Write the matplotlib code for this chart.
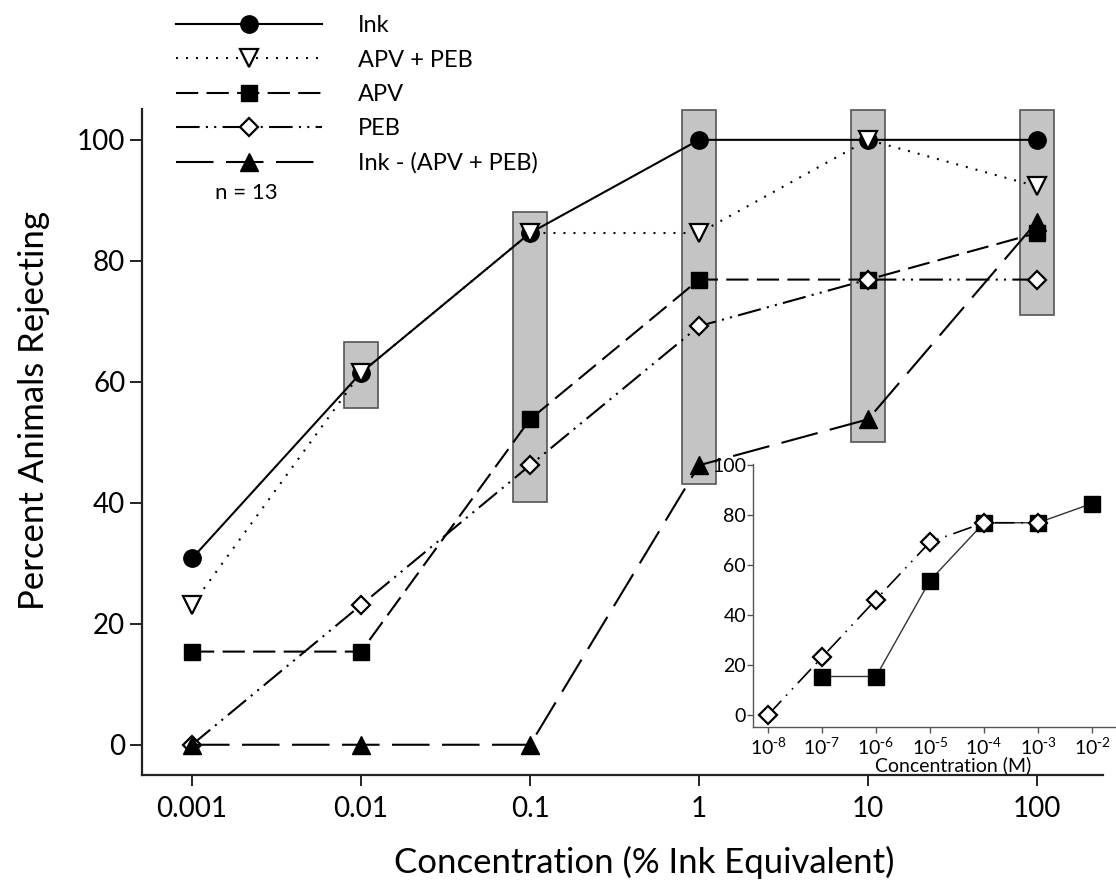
import matplotlib
matplotlib.use('Agg')
import matplotlib.pyplot as plt
from matplotlib import font_manager as fm


def pick_font(names):
    for n in names:
        try:
            fm.findfont(fm.FontProperties(family=n), fallback_to_default=False)
            return n
        except Exception:
            pass
    return 'DejaVu Sans'


FONT = pick_font(['Lato', 'Open Sans', 'Liberation Sans'])
plt.rcParams['font.family'] = [FONT, 'DejaVu Sans']
plt.rcParams['mathtext.default'] = 'regular'
plt.rcParams['lines.scale_dashes'] = False

# ---------------- data ----------------
conc = [0.001, 0.01, 0.1, 1, 10, 100]
conc_labels = ['0.001', '0.01', '0.1', '1', '10', '100']
ink = [30.8, 61.5, 84.6, 100, 100, 100]
apv_peb = [23.1, 61.5, 84.6, 84.6, 100, 92.3]
apv = [15.4, 15.4, 53.8, 76.9, 76.9, 84.6]
peb = [0, 23.1, 46.2, 69.2, 76.9, 76.9]
ink_minus = [0, 0, 0, 46.2, 53.8, 86.5]

range_conc = [0.01, 0.1, 1, 10, 100]
range_low = [55.7, 40.2, 43.1, 50.1, 71.1]
range_high = [66.6, 88.0, 105.0, 105.0, 105.0]

molar = [1e-8, 1e-7, 1e-6, 1e-5, 1e-4, 1e-3, 1e-2]
molar_labels = [r'$10^{\text{-}8}$', r'$10^{\text{-}7}$', r'$10^{\text{-}6}$',
                r'$10^{\text{-}5}$', r'$10^{\text{-}4}$', r'$10^{\text{-}3}$',
                r'$10^{\text{-}2}$']
inset_apv_conc = [1e-7, 1e-6, 1e-5, 1e-4, 1e-3, 1e-2]
inset_apv = [15.4, 15.4, 53.8, 76.9, 76.9, 84.6]
inset_peb_conc = [1e-8, 1e-7, 1e-6, 1e-5, 1e-4, 1e-3]
inset_peb = [0, 23.1, 46.2, 69.2, 76.9, 76.9]

# ---------------- figure ----------------
W, H = 1116, 886
fig = plt.figure(figsize=(W / 100, H / 100), dpi=100)


def fx(px):
    return px / W


def fy(py):
    return 1 - py / H


ax = fig.add_axes([fx(142), fy(775), fx(1103) - fx(142), fy(109) - fy(775)])
ax.set_xscale('log')
ax.set_xlim(10 ** -3.296, 10 ** 2.39)
ax.set_ylim(-5.0, 105.1)

# gray range bars
hw = 10 ** 0.102
for c, lo, hi in zip(range_conc, range_low, range_high):
    ax.bar(c / hw, hi - lo, bottom=lo, width=c * hw - c / hw, align='edge',
           color='#c4c4c4', edgecolor='#555555', linewidth=1.2, zorder=1)

lw = 1.5
mew = 1.6
h_ink, = ax.plot(conc, ink, color='black', lw=lw, marker='o', ms=12.5,
                 mfc='black', mec='black', zorder=3, label='Ink')
h_ap, = ax.plot(conc, apv_peb, color='black', lw=lw, ls=(0, (1.4, 5.8)),
                marker='v', ms=12.5, mfc='white', mec='black', mew=mew,
                zorder=4, label='APV + PEB')
h_apv, = ax.plot(conc, apv, color='black', lw=lw, ls=(0, (16, 6)),
                 marker='s', ms=11, mfc='black', mec='black', zorder=5,
                 label='APV')
h_peb, = ax.plot(conc, peb, color='black', lw=lw,
                 ls=(0, (17, 4.5, 1.5, 4.5, 1.5, 4.5)),
                 marker='D', ms=9.5, mfc='white', mec='black', mew=mew,
                 zorder=6, label='PEB')
h_im, = ax.plot(conc, ink_minus, color='black', lw=lw, ls=(0, (27, 9)),
                marker='^', ms=12.5, mfc='black', mec='black', zorder=7,
                label='Ink - (APV + PEB)')

ax.set_xticks(conc)
ax.set_xticklabels(conc_labels)
ax.minorticks_off()
ax.set_yticks([0, 20, 40, 60, 80, 100])
for s in ['top', 'right']:
    ax.spines[s].set_visible(False)
for s in ['left', 'bottom']:
    ax.spines[s].set_linewidth(1.6)
    ax.spines[s].set_color('#222222')
ax.tick_params(axis='x', length=8, width=1.4, pad=7, labelsize=20, color='#222222')
ax.tick_params(axis='y', length=9, width=1.4, pad=3, labelsize=20, color='#222222')

ax.set_xlabel('Concentration (% Ink Equivalent)', fontsize=25, va='center')
ax.xaxis.set_label_coords(0.523, -0.131)
ax.set_ylabel('Percent Animals Rejecting', fontsize=25, va='center')
ax.yaxis.set_label_coords(-0.112, 0.548)

# legend (sits above the axes, in figure coords)
fig.legend(handles=[h_ink, h_ap, h_apv, h_peb, h_im], loc='upper left',
           bbox_to_anchor=(fx(176), fy(15.5)), frameon=False, fontsize=17,
           handlelength=6.2, handletextpad=1.5, labelspacing=0.56,
           borderpad=0, borderaxespad=0)
fig.text(fx(246), fy(193), 'n = 13', ha='center', va='center', fontsize=16)

# ---------------- inset ----------------
ins = fig.add_axes([fx(753), fy(727), fx(1115) - fx(753), fy(464) - fy(727)])
ins.patch.set_alpha(0)
ins.set_xscale('log')
ins.set_xlim(10 ** -8.278, 10 ** -1.574)
ins.set_ylim(-4.8, 100.4)
ins.plot(inset_apv_conc, inset_apv, color='#333333', lw=1.0, marker='s', ms=11,
         mfc='black', mec='black', zorder=3)
ins.plot(inset_peb_conc, inset_peb, color='black', lw=1.2,
         ls=(0, (14, 5, 1.2, 5, 1.2, 5)), marker='D', ms=9.5, mfc='white',
         mec='black', mew=mew, zorder=4)
ins.set_xticks(molar)
ins.set_xticklabels(molar_labels)
ins.minorticks_off()
ins.set_yticks([0, 20, 40, 60, 80, 100])
for s in ['top', 'right']:
    ins.spines[s].set_visible(False)
for s in ['left', 'bottom']:
    ins.spines[s].set_linewidth(1.0)
    ins.spines[s].set_color('#555555')
ins.tick_params(axis='both', length=4, width=1.0, labelsize=14, color='#555555')
ins.tick_params(axis='x', pad=3)
ins.tick_params(axis='y', pad=1)
ins.set_xlabel('Concentration (M)', fontsize=14, va='center')
ins.xaxis.set_label_coords(0.552, -0.145)

fig.savefig('out.png', dpi=100)
